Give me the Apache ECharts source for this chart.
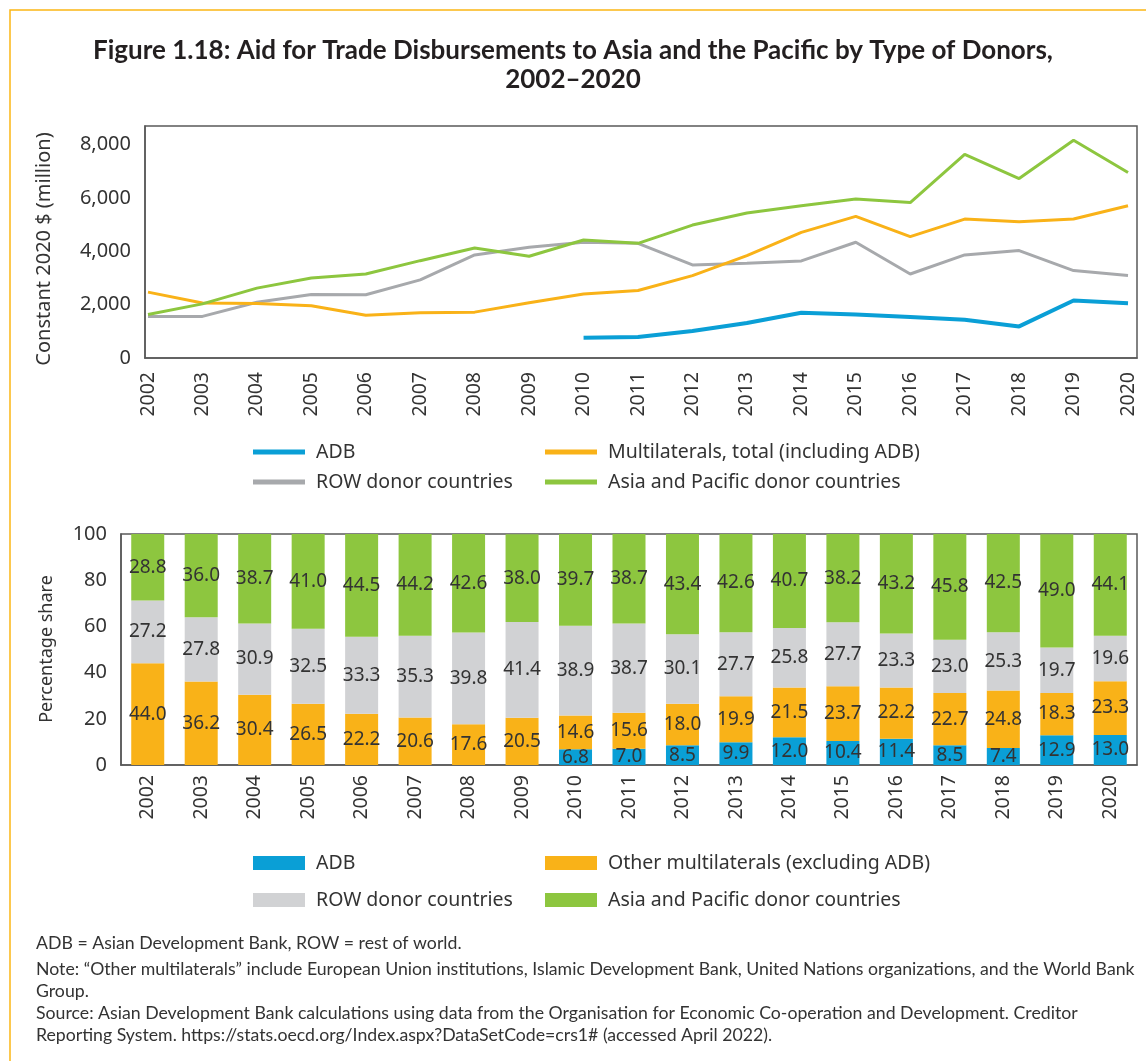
<!DOCTYPE html>
<html>
<head>
<meta charset="utf-8">
<script src="https://cdn.jsdelivr.net/npm/echarts@6/dist/echarts.min.js"></script>
<style>
html, body { margin: 0; padding: 0; background: #fff; }
#main { width: 1146px; height: 1061px; }
</style>
</head>
<body>
<div id="main"></div>
<script>
var years = [2002, 2003, 2004, 2005, 2006, 2007, 2008, 2009, 2010, 2011, 2012, 2013, 2014, 2015, 2016, 2017, 2018, 2019, 2020];
var yearLabels = ['2002', '2003', '2004', '2005', '2006', '2007', '2008', '2009', '2010', '2011', '2012', '2013', '2014', '2015', '2016', '2017', '2018', '2019', '2020'];

// constant 2020 $ million
var adbValues = [null, null, null, null, null, null, null, null, 760, 785, 1010, 1310, 1700, 1630, 1535, 1435, 1185, 2155, 2055];
var multiValues = [2470, 2060, 2045, 1960, 1600, 1700, 1720, 2070, 2400, 2530, 3090, 3840, 4710, 5310, 4550, 5210, 5110, 5210, 5710];
var rowValues = [1560, 1560, 2090, 2380, 2370, 2930, 3865, 4150, 4340, 4300, 3490, 3550, 3640, 4340, 3150, 3865, 4030, 3280, 3090];
var apacValues = [1630, 2030, 2620, 3000, 3150, 3650, 4125, 3815, 4425, 4300, 4985, 5435, 5710, 5960, 5830, 7640, 6730, 8165, 6955];

// percentage share
var adbShare = [null, null, null, null, null, null, null, null, 6.8, 7.0, 8.5, 9.9, 12.0, 10.4, 11.4, 8.5, 7.4, 12.9, 13.0];
var otherShare = [44.0, 36.2, 30.4, 26.5, 22.2, 20.6, 17.6, 20.5, 14.6, 15.6, 18.0, 19.9, 21.5, 23.7, 22.2, 22.7, 24.8, 18.3, 23.3];
var rowShare = [27.2, 27.8, 30.9, 32.5, 33.3, 35.3, 39.8, 41.4, 38.9, 38.7, 30.1, 27.7, 25.8, 27.7, 23.3, 23.0, 25.3, 19.7, 19.6];
var apacShare = [28.8, 36.0, 38.7, 41.0, 44.5, 44.2, 42.6, 38.0, 39.7, 38.7, 43.4, 42.6, 40.7, 38.2, 43.2, 45.8, 42.5, 49.0, 44.1];

var footLines = [
	'ADB = Asian Development Bank, ROW = rest of world.',
	'Note: \u201cOther multilaterals\u201d include European Union institutions, Islamic Development Bank, United Nations organizations, and the World Bank',
	'Group.',
	'Source: Asian Development Bank calculations using data from the Organisation for Economic Co-operation and Development. Creditor',
	'Reporting System. https://stats.oecd.org/Index.aspx?DataSetCode=crs1# (accessed April 2022).'
];

var BLUE = '#0a9fd6',
	ORANGE = '#f9b218',
	GREY_LINE = '#a7a9ac',
	GREY_BAR = '#d1d2d4',
	GREEN = '#8dc63f',
	AXIS = '#595959',
	TEXT = '#333333',
	FONT = 'Noto Sans';

function pairs(vals){
	var out = [];
	for(var i = 0; i < years.length; i++){
		out.push([years[i], vals[i]]);
	}
	return out;
}

function lineSeries(name, vals, color, width){
	return {
		name : name,
		type : 'line',
		xAxisIndex : 0,
		yAxisIndex : 0,
		data : pairs(vals),
		symbol : 'none',
		connectNulls : false,
		color : color,
		lineStyle : { color : color, width : width },
		z : width > 3 ? 5 : 3
	};
}

function barSeries(name, vals, color){
	return {
		name : name,
		type : 'bar',
		xAxisIndex : 1,
		yAxisIndex : 1,
		stack : 'share',
		barWidth : 33,
		data : vals,
		itemStyle : { color : color },
		label : {
			show : true,
			position : 'inside',
			color : TEXT,
			fontFamily : FONT,
			fontSize : 19,
			formatter : function(p){
				return p.value == null ? '' : p.value.toFixed(1);
			}
		}
	};
}

var footGraphics = [];
var footY = [943, 969, 991, 1013, 1035];
for(var i = 0; i < footLines.length; i++){
	footGraphics.push({
		type : 'text',
		x : 36,
		y : footY[i],
		style : {
			text : footLines[i],
			fill : TEXT,
			font : '17.7px Lato',
			verticalAlign : 'middle'
		}
	});
}

// rotated axis titles
var axisNames = [
	{ type : 'text', x : 44, y : 249, rotation : Math.PI / 2,
		style : { text : 'Constant 2020 $ (million)', fill : TEXT, font : '20px "Noto Sans"', align : 'center', verticalAlign : 'middle' } },
	{ type : 'text', x : 47, y : 649, rotation : Math.PI / 2,
		style : { text : 'Percentage share', fill : TEXT, font : '18px "Noto Sans"', align : 'center', verticalAlign : 'middle' } }
];

var legendText = { color : TEXT, fontFamily : FONT, fontSize : 19.5, lineHeight : 20, padding : [0, 0, 0, 6] };

var option = {
	backgroundColor : '#fff',
	animation : false,
	title : {
		text : 'Figure 1.18: Aid for Trade Disbursements to Asia and the Pacific by Type of Donors,\n2002\u20132020',
		left : 'center',
		top : 31,
		textStyle : {
			fontFamily : 'Lato',
			fontWeight : 'bold',
			fontSize : 26,
			lineHeight : 29,
			color : '#231f20'
		}
	},
	graphic : [
		{
			type : 'polyline',
			shape : { points : [[10, 1061], [10, 10], [1146, 10]] },
			style : { stroke : '#fbb614', lineWidth : 1.5, fill : null },
			silent : true
		}
	].concat(axisNames, footGraphics),
	legend : [
		{
			orient : 'vertical', left : 248, top : 437, itemGap : 10,
			itemWidth : 52, itemHeight : 5, icon : 'rect',
			data : ['ADB', 'ROW donor countries'], textStyle : legendText
		},
		{
			orient : 'vertical', left : 540, top : 437, itemGap : 10,
			itemWidth : 52, itemHeight : 5, icon : 'rect',
			data : ['Multilaterals, total (including ADB)', 'Asia and Pacific donor countries'], textStyle : legendText
		},
		{
			orient : 'vertical', left : 248, top : 848, itemGap : 17,
			itemWidth : 52, itemHeight : 14, icon : 'rect',
			data : ['ADB ', 'ROW donor countries '], textStyle : legendText
		},
		{
			orient : 'vertical', left : 540, top : 848, itemGap : 17,
			itemWidth : 52, itemHeight : 14, icon : 'rect',
			data : ['Other multilaterals (excluding ADB)', 'Asia and Pacific donor countries '], textStyle : legendText
		}
	],
	grid : [
		{ left : 145, top : 126, width : 992, height : 232, show : true, borderColor : AXIS, borderWidth : 1.5 },
		{ left : 121, top : 534, width : 1016, height : 231, show : true, borderColor : AXIS, borderWidth : 1.5 }
	],
	xAxis : [
		{
			type : 'value',
			gridIndex : 0,
			min : 2001.945,
			max : 2020.165,
			axisLine : { show : true, onZero : false, lineStyle : { color : AXIS, width : 1.5 } },
			axisTick : { show : false },
			splitLine : { show : false },
			axisLabel : {
				customValues : years,
				rotate : 90,
				margin : 14,
				color : TEXT,
				fontFamily : FONT,
				fontSize : 19.5,
				formatter : function(v){ return String(v); }
			}
		},
		{
			type : 'category',
			gridIndex : 1,
			data : yearLabels,
			axisLine : { show : true, lineStyle : { color : AXIS, width : 1.5 } },
			axisTick : { show : false },
			axisLabel : {
				rotate : 90,
				margin : 10,
				color : TEXT,
				fontFamily : FONT,
				fontSize : 19.5
			}
		}
	],
	yAxis : [
		{
			type : 'value',
			gridIndex : 0,
			min : 0,
			max : 8700,
			interval : 2000,
			axisLine : { show : true, lineStyle : { color : AXIS, width : 1.5 } },
			axisTick : { show : false },
			splitLine : { show : false },
			axisLabel : {
				showMaxLabel : false,
				margin : 14,
				color : TEXT,
				fontFamily : FONT,
				fontSize : 20,
				formatter : function(v){ return v.toLocaleString('en-US'); }
			}
		},
		{
			type : 'value',
			gridIndex : 1,
			min : 0,
			max : 100,
			interval : 20,
			axisLine : { show : true, lineStyle : { color : AXIS, width : 1.5 } },
			axisTick : { show : false },
			splitLine : { show : false },
			axisLabel : {
				margin : 14,
				color : TEXT,
				fontFamily : FONT,
				fontSize : 20
			}
		}
	],
	series : [
		lineSeries('ROW donor countries', rowValues, GREY_LINE, 3),
		lineSeries('Multilaterals, total (including ADB)', multiValues, ORANGE, 3),
		lineSeries('Asia and Pacific donor countries', apacValues, GREEN, 3),
		lineSeries('ADB', adbValues, BLUE, 4),
		barSeries('ADB ', adbShare, BLUE),
		barSeries('Other multilaterals (excluding ADB)', otherShare, ORANGE),
		barSeries('ROW donor countries ', rowShare, GREY_BAR),
		barSeries('Asia and Pacific donor countries ', apacShare, GREEN)
	]
};

var chart = echarts.init(document.getElementById('main'), null, { renderer : 'canvas' });
chart.setOption(option);
</script>
</body>
</html>
